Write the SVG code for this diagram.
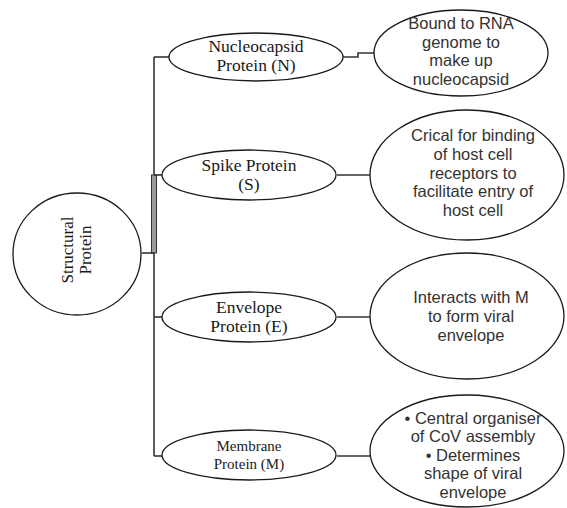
<svg xmlns="http://www.w3.org/2000/svg" width="567" height="508" viewBox="0 0 567 508">
<style>
.shape{fill:#fff;stroke:#1a1a1a;stroke-width:1.3}
.serif{font-family:"Liberation Serif","Times New Roman",serif;font-size:17.5px;fill:#1a1a1a;text-anchor:middle}
.small{font-size:15px}
.sans{font-family:"Liberation Sans",Arial,sans-serif;font-size:16.5px;fill:#333;text-anchor:middle}
.ln{fill:none;stroke:#333;stroke-width:1.6}
</style>
<rect width="567" height="508" fill="#fff"/>
<g id="connectors">
<path class="ln" d="M154,57 V456"/>
<rect x="151.5" y="175" width="5" height="78" fill="#9a9a9a" stroke="#333" stroke-width="1"/>
<path class="ln" d="M142,253 H154"/>
<path class="ln" d="M154,57 H170"/>
<path class="ln" d="M343,57 H358 V53 H375"/>
<path class="ln" d="M154,175 H162"/>
<path class="ln" d="M337,175 H370"/>
<path class="ln" d="M154,317 H162"/>
<path class="ln" d="M337,317 H370"/>
<path class="ln" d="M154,456 H162"/>
<path class="ln" d="M337,456 H370"/>
</g>
<g id="structural">
<ellipse class="shape" cx="77" cy="254" rx="64" ry="61"/>
<text class="serif" style="font-size:17px" transform="translate(77,250) rotate(-90)"><tspan x="0" y="-4">Structural</tspan><tspan x="0" y="14">Protein</tspan></text>
</g>
<g id="nucleocapsid">
<ellipse class="shape" cx="256" cy="57" rx="87" ry="24"/>
<text class="serif"><tspan x="256" y="51.5">Nucleocapsid</tspan><tspan x="256" y="70.5">Protein (N)</tspan></text>
</g>
<g id="spike">
<ellipse class="shape" cx="249" cy="175" rx="87" ry="25"/>
<text class="serif"><tspan x="249" y="170.5">Spike Protein</tspan><tspan x="249" y="189.5">(S)</tspan></text>
</g>
<g id="envelope">
<ellipse class="shape" cx="249" cy="317" rx="87" ry="25"/>
<text class="serif"><tspan x="249" y="312.5">Envelope</tspan><tspan x="249" y="331.5">Protein (E)</tspan></text>
</g>
<g id="membrane">
<ellipse class="shape" cx="249" cy="455" rx="87" ry="25"/>
<text class="serif small"><tspan x="249" y="451">Membrane</tspan><tspan x="249" y="469">Protein (M)</tspan></text>
</g>
<g id="bound">
<ellipse class="shape" cx="461" cy="53" rx="87" ry="43"/>
<text class="sans"><tspan x="461" y="29">Bound to RNA</tspan><tspan x="461" y="47.5">genome to</tspan><tspan x="461" y="66">make up</tspan><tspan x="461" y="85">nucleocapsid</tspan></text>
</g>
<g id="critical">
<ellipse class="shape" cx="467" cy="175" rx="97" ry="65"/>
<text class="sans"><tspan x="473" y="141">Crical for binding</tspan><tspan x="473" y="159.8">of host cell</tspan><tspan x="473" y="178.6">receptors to</tspan><tspan x="473" y="197.4">facilitate entry of</tspan><tspan x="473" y="216.2">host cell</tspan></text>
</g>
<g id="interacts">
<ellipse class="shape" cx="467" cy="316" rx="97" ry="63"/>
<text class="sans"><tspan x="471" y="303">Interacts with M</tspan><tspan x="471" y="322">to form viral</tspan><tspan x="471" y="341">envelope</tspan></text>
</g>
<g id="central">
<ellipse class="shape" cx="467" cy="451" rx="97" ry="56"/>
<text class="sans"><tspan x="473" y="423.5">• Central organiser</tspan><tspan x="473" y="442">of CoV assembly</tspan><tspan x="473" y="460.5">• Determines</tspan><tspan x="473" y="479">shape of viral</tspan><tspan x="473" y="497.5">envelope</tspan></text>
</g>
</svg>
